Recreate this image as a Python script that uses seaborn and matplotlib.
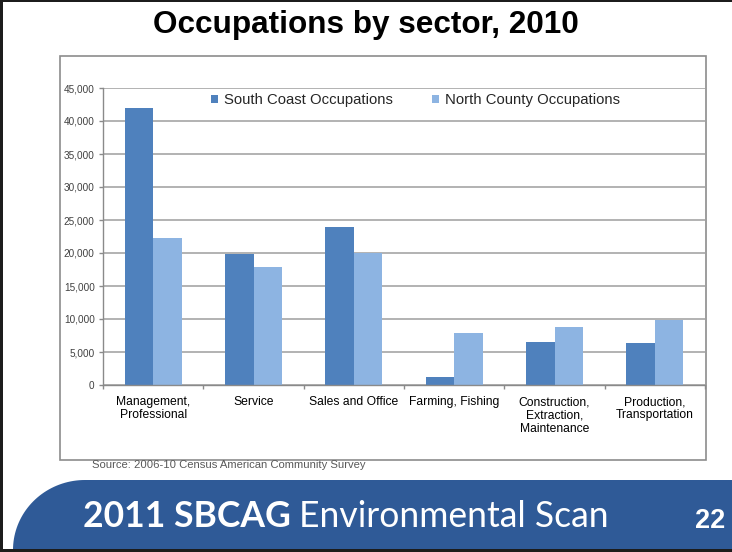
import matplotlib
matplotlib.use("Agg")
import matplotlib.pyplot as plt
import numpy as np
import pandas as pd
import seaborn as sns
from matplotlib.patches import Rectangle, Polygon
from matplotlib.ticker import FixedLocator, FuncFormatter

# Employed residents by occupation group, 2006-10 ACS
sectors = [
    "Management,\nProfessional",
    "Service",
    "Sales and Office",
    "Farming, Fishing",
    "Construction,\nExtraction,\nMaintenance",
    "Production,\nTransportation",
]
south_coast = [41900, 19900, 23900, 1250, 6500, 6300]
north_county = [22300, 17950, 20000, 7900, 8750, 9900]
series_names = ["South Coast Occupations", "North County Occupations"]
series_colors = ["#4F81BD", "#8DB4E2"]
y_ticks = [0, 5000, 10000, 15000, 20000, 25000, 30000, 35000, 40000, 45000]

df = pd.DataFrame({
    "sector": sectors * 2,
    "series": [series_names[0]] * len(sectors) + [series_names[1]] * len(sectors),
    "workers": south_coast + north_county,
})

sns.set_theme(style="white")
plt.rcParams["font.family"] = ["Liberation Sans", "DejaVu Sans"]

W, H = 732, 552
fig = plt.figure(figsize=(W / 100, H / 100), dpi=100)
fig.patch.set_facecolor("white")


def fx(px):
    return px / W


def fy(py):
    return 1 - py / H


# chart box (kept beneath the axes)
fig.patches.append(Rectangle((fx(60), fy(460)), (706 - 60) / W, (460 - 56) / H,
                             transform=fig.transFigure, facecolor="white",
                             edgecolor="#8c8c8c", lw=1.2, zorder=-5))

ax = fig.add_axes([fx(103), fy(385), (705 - 103) / W, (385 - 88) / H])
ax.set_zorder(2)
sns.barplot(data=df, x="sector", y="workers", hue="series",
            palette=series_colors, width=0.57, saturation=1,
            errorbar=None, linewidth=0, ax=ax)

ax.set_facecolor("none")
ax.set_ylim(0, 45000)
ax.set_xlim(-0.5, len(sectors) - 0.5)
ax.set_xlabel("")
ax.set_ylabel("")
ax.yaxis.set_major_locator(FixedLocator(y_ticks))
ax.yaxis.set_major_formatter(FuncFormatter(lambda v, p: f"{v:,.0f}"))
ax.grid(axis="y", color="#a6a6a6", lw=1.2)
ax.grid(axis="x", visible=False)
ax.set_axisbelow(True)

for side in ["top", "right"]:
    ax.spines[side].set_visible(False)
for side in ["left", "bottom"]:
    ax.spines[side].set_color("#8a8a8a")
    ax.spines[side].set_linewidth(1.0)

ax.tick_params(axis="y", which="major", left=True, direction="out", length=3,
               width=1, color="#8a8a8a", pad=3, labelsize=7.2, labelcolor="#404040")
ax.xaxis.set_minor_locator(FixedLocator(np.arange(-0.5, len(sectors), 1.0)))
ax.tick_params(axis="x", which="minor", bottom=True, direction="out", length=3,
               width=1, color="#8a8a8a")
ax.tick_params(axis="x", which="major", bottom=True, length=0, pad=8,
               labelsize=8.7, labelcolor="#000000")
for t in ax.get_xticklabels():
    t.set_linespacing(1.15)

sns.move_legend(ax, "center left", bbox_to_anchor=(fx(211), fy(100)),
                bbox_transform=fig.transFigure, ncol=2, frameon=False, title=None,
                fontsize=10.7, handlelength=0.45, handleheight=0.45,
                handletextpad=0.45, columnspacing=2.6, borderpad=0, borderaxespad=0)

# title
fig.text(fx(366), fy(33), "Occupations by sector, 2010", ha="center", va="baseline",
         fontsize=22.7, fontweight="bold", color="black")

# source note
fig.text(fx(92), fy(465), "Source: 2006-10 Census American Community Survey",
         ha="left", va="center", fontsize=8.1, color="#595959")

# footer banner with rounded left edge
theta = np.linspace(np.pi, np.pi / 2, 40)
arc_x = 85 + 72 * np.cos(theta)
arc_y = 550 - 70 * np.sin(theta)
pts = [(fx(x), fy(y)) for x, y in zip(arc_x, arc_y)]
pts += [(fx(732), fy(480)), (fx(732), fy(550))]
fig.patches.append(Polygon(pts, closed=True, transform=fig.transFigure,
                           facecolor="#2F5A97", edgecolor="none", zorder=1))

# slide frame
frame_col = "#1c1c1c"
fig.patches.append(Rectangle((0, 0), fx(3), 1, transform=fig.transFigure,
                             facecolor=frame_col, edgecolor="none", zorder=3))
fig.patches.append(Rectangle((0, fy(2)), 1, 2 / H, transform=fig.transFigure,
                             facecolor=frame_col, edgecolor="none", zorder=3))
fig.patches.append(Rectangle((0, 0), 1, 3 / H, transform=fig.transFigure,
                             facecolor=frame_col, edgecolor="none", zorder=3))

# footer text
t1 = fig.text(fx(83), fy(527), "2011 SBCAG", ha="left", va="baseline",
              fontsize=25.6, fontweight="bold", color="white",
              family=["Lato", "DejaVu Sans"], zorder=4)
renderer = fig.canvas.get_renderer()
bb = t1.get_window_extent(renderer)
fig.text((bb.x1 + 8) / W, fy(527), "Environmental Scan", ha="left", va="baseline",
         fontsize=25.6, color="white", family=["Lato", "DejaVu Sans"], zorder=4)
fig.text(fx(725), fy(528), "22", ha="right", va="baseline", fontsize=19.5,
         fontweight="bold", color="white", zorder=4)

fig.savefig("out.png", dpi=100)
